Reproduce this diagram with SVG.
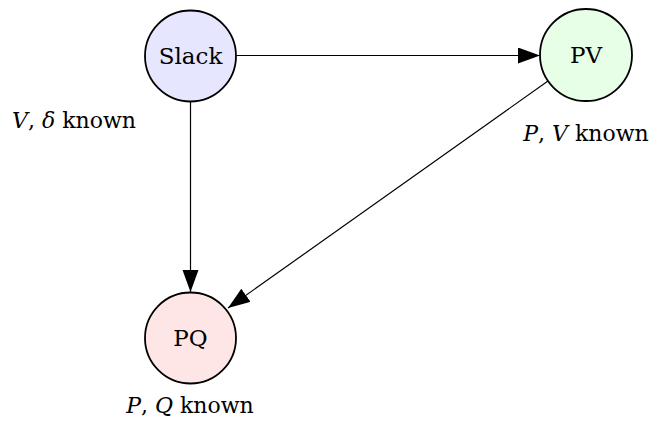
<svg xmlns="http://www.w3.org/2000/svg" width="656" height="437" viewBox="0 0 656 437">
<style>
.node{stroke:#000;stroke-width:1.8}
.lbl{font-family:'DejaVu Serif','Liberation Serif',serif;font-size:23px;fill:#000;text-anchor:middle}
.cap{font-family:'DejaVu Serif','Liberation Serif',serif;font-size:22px;fill:#000;text-anchor:middle}
.edge{stroke:#000;stroke-width:1.2;fill:none}
</style>
<defs>
<marker id="ah" markerUnits="userSpaceOnUse" markerWidth="24" markerHeight="18" refX="22" refY="8" orient="auto">
<path d="M0,0 L22,8 L0,16 Z" fill="#000"/>
</marker>
</defs>
<rect width="656" height="437" fill="#fff"/>
<g id="connectors">
<line class="edge" x1="236" y1="55.5" x2="540" y2="55.5" marker-end="url(#ah)"/>
<line class="edge" x1="190.5" y1="102" x2="190.5" y2="292" marker-end="url(#ah)"/>
<line class="edge" x1="548" y1="81" x2="228" y2="308" marker-end="url(#ah)"/>
</g>
<g id="slack">
<circle class="node" cx="190.5" cy="56" r="45.5" fill="#e6e6ff"/>
<text class="lbl" x="190.5" y="64">Slack</text>
<text class="cap" x="74" y="128"><tspan font-style="italic">V</tspan>, <tspan font-style="italic">δ</tspan>  known</text>
</g>
<g id="pv">
<circle class="node" cx="586" cy="55" r="46" fill="#e6ffe6"/>
<text class="lbl" x="586" y="63">PV</text>
<text class="cap" x="586" y="141"><tspan font-style="italic">P</tspan>, <tspan font-style="italic">V</tspan> known</text>
</g>
<g id="pq">
<circle class="node" cx="190.5" cy="338" r="45.5" fill="#ffe6e6"/>
<text class="lbl" x="190.5" y="346">PQ</text>
<text class="cap" x="190" y="413"><tspan font-style="italic">P</tspan>, <tspan font-style="italic">Q</tspan> known</text>
</g>
</svg>
